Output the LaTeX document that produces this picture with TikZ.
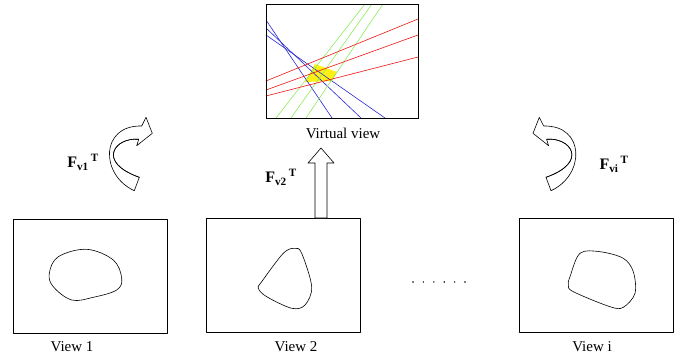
\documentclass[tikz,border=0pt]{standalone}
\usepackage{fontspec}
\setmainfont{Liberation Serif}
\definecolor{rayblue}{RGB}{40,40,210}
\definecolor{raygreen}{RGB}{140,235,90}
\definecolor{rayred}{RGB}{240,20,20}
\definecolor{blobyellow}{RGB}{255,240,20}
\tikzset{
  viewbox/.style={draw,line width=0.8pt,minimum width=154pt,minimum height=114pt,inner sep=0pt},
  viewlabel/.style={font=\fontsize{15}{18}\selectfont},
  flabel/.style={font=\fontsize{16}{19}\selectfont\bfseries},
  blockarrow/.style={draw,line width=0.6pt,fill=white}
}
\begin{document}
\begin{tikzpicture}[line cap=round,line join=round,x=1pt,y=-1pt]
\useasboundingbox (0,0) rectangle (691,356);
% virtual view
\node[viewbox,minimum width=152pt] (virt) at (342,61) {};
\fill[blobyellow] (305,82) -- (315,64) -- (337,72) -- (332,81) -- cycle;
\draw[rayblue,line width=0.6pt] (266,20) -- (332,118);
\draw[rayblue,line width=0.6pt] (266,28) -- (361,118);
\draw[rayblue,line width=0.6pt] (266,35) -- (385,118);
\draw[raygreen,line width=0.6pt] (276,118) -- (365,4);
\draw[raygreen,line width=0.6pt] (291,118) -- (372,4);
\draw[raygreen,line width=0.6pt] (306,118) -- (383,4);
\draw[rayred,line width=0.6pt] (266,81) -- (418,19);
\draw[rayred,line width=0.6pt] (266,90) -- (418,35);
\draw[rayred,line width=0.6pt] (266,96) -- (418,57);
\node[viewbox,minimum width=152pt] at (virt) {};
\node[viewlabel] (virtlab) at (343,133) {Virtual view};

% views
\node[viewbox] (view1) at (90,276) {};
\node[viewbox] (view2) at (283.5,275) {};
\node[viewbox] (viewi) at (596.5,275.5) {};
\node[viewlabel] (lab1) at (72,347) {View 1};
\node[viewlabel] (lab2) at (296,347) {View 2};
\node[viewlabel] (labi) at (592,347) {View i};

\draw[line width=0.6pt] plot[smooth cycle,tension=0.6] coordinates
  {(49.3,273.3) (58.3,256.7) (86.7,249.3) (113.3,260) (121.7,278.3) (116.7,290) (93.3,297.3) (71.7,300) (53.3,286.7)};
\draw[line width=0.6pt] plot[smooth cycle,tension=0.55] coordinates
  {(295,248.3) (301.7,253.3) (311.7,286.7) (305,305) (291.7,308.3) (266.7,296.7) (258.3,288.3) (261.7,281.7) (283.3,253.3)};
\draw[line width=0.6pt] plot[smooth cycle,tension=0.55] coordinates
  {(580,253.3) (600,251.7) (623.3,258.3) (633.3,271.7) (635,293.3) (623.3,307.3) (610,306.7) (573.3,291.7) (568.3,285) (570,276.7)};

% dots
\foreach \k in {0,...,5}
  \fill (413+10.4*\k,282) circle (0.8pt);

% transforms
\draw[blockarrow] (315,218) -- (315,163) -- (308,163) -- (321,148) -- (334,163) -- (327,163) -- (327,218) -- cycle;
\draw[blockarrow] (134.3,190.7) .. controls (100,175) and (100,125) .. (141.7,126)
  -- (146,117.3) -- (152.3,133.3) -- (136.7,145.7) -- (138.7,139.3)
  .. controls (115,137) and (96,162) .. (139.3,177.3) -- cycle;
\draw[line width=0.6pt] (138.7,139.3) .. controls (115,137) and (96,162) .. (139.3,177.3);
\begin{scope}[shift={(685.3,0)},xscale=-1]
\draw[blockarrow] (134.3,190.7) .. controls (100,175) and (100,125) .. (141.7,126)
  -- (146,117.3) -- (152.3,133.3) -- (136.7,145.7) -- (138.7,139.3)
  .. controls (115,137) and (96,162) .. (139.3,177.3) -- cycle;
\draw[line width=0.6pt] (138.7,139.3) .. controls (115,137) and (96,162) .. (139.3,177.3);
\end{scope}

\node[flabel] (fv1) at (83,162) {F\textsubscript{v1}\hspace{2pt}\textsuperscript{T}};
\node[flabel] (fv2) at (281,177) {F\textsubscript{v2}\hspace{2pt}\textsuperscript{T}};
\node[flabel] (fvi) at (614,164) {F\textsubscript{vi}\hspace{2pt}\textsuperscript{T}};
\end{tikzpicture}
\end{document}
